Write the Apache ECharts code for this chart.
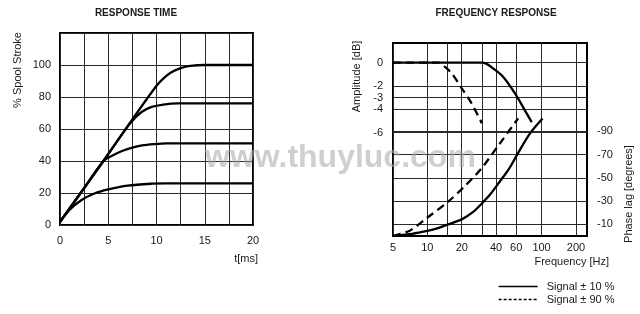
<!DOCTYPE html>
<html><head><meta charset="utf-8">
<script src="https://cdn.jsdelivr.net/npm/echarts@6/dist/echarts.min.js"></script>
<style>html,body{margin:0;padding:0;background:#fff}#c{width:640px;height:314px}</style>
</head><body><div id="c"></div>
<script>
// ---- RESPONSE TIME ----
const timeTicks = [0, 5, 10, 15, 20];
const strokeTicks = [0, 20, 40, 60, 80, 100];
const resp100 = [[0,2],[2.5,23],[4.5,40],[7.5,66],[10,87],[10.7,91.5],[11.5,95.3],[12.5,98],[13.5,99.4],[15,100],[20,100]];
const resp75  = [[0,2],[2.5,23],[4.5,40],[7,61.5],[7.7,66.5],[8.5,70.8],[9.5,73.8],[10.7,75.3],[12.2,76],[20,76]];
const resp50  = [[0,2],[2.5,23],[4.5,40],[5.5,43.6],[6.5,46.4],[7.5,48.4],[8.5,49.7],[9.7,50.5],[11,51],[20,51]];
const resp25  = [[0,2],[1,9.5],[2.2,15.5],[3.5,19.5],[5,22.2],[7,24.6],[9.5,25.8],[11,26],[20,26]];
// ---- FREQUENCY RESPONSE ----
const freqLabels = [5, 10, 20, 40, 60, 100, 200];
const freqGrid = [5, 10, 15, 20, 30, 40, 60, 100, 200];
const ampTicks = [0, -2, -3, -4, -6];
const phaseTicks = [-90, -70, -50, -30, -10];
const amp10 = [[5,0],[30,0],[33,-0.1],[36,-0.35],[46,-1.2],[60,-2.8],[71,-4.05],[82,-5.1]];
const amp90 = [[5,0],[12.5,0],[14,-0.3],[16.3,-0.9],[20,-2.2],[24.4,-3.5],[30,-5.2]];
const phase10 = [[5,0],[7,-1.5],[9.2,-3.7],[12,-6.3],[15,-9.8],[20,-14.3],[25,-20.5],[30,-28],[36,-36.5],[43,-46.7],[52,-58],[62,-71],[79,-88],[102,-101]];
const phase90 = [[5,0],[7,-4.6],[9.8,-15.2],[15.2,-29.5],[21.3,-43],[29.8,-58.2],[43.2,-79.7],[62.4,-101.2]];
const legendNames = ['Signal ± 10 %', 'Signal ± 90 %'];

const FF = '"Liberation Sans", Arial, sans-serif';
const TXT = '#1a1a1a';
const GRIDC = '#2a2a2a';
const lab = (extra) => Object.assign({color: TXT, fontFamily: FF, fontSize: 11}, extra || {});
const split = {show: true, lineStyle: {color: GRIDC, width: 1}};
const noLine = {show: false, onZero: false};

function curve(name, data, xi, yi, dashed) {
  return {
    type: 'line', name, data, xAxisIndex: xi, yAxisIndex: yi,
    symbol: 'none', showSymbol: false, smooth: 0.3,
    lineStyle: {color: '#000', width: 2.3, type: dashed ? [8, 5] : 'solid'},
    itemStyle: {color: '#000'}, z: 5
  };
}
const hiddenSymbol = {opacity: 0, color: 'rgba(0,0,0,0)', borderColor: 'rgba(0,0,0,0)', borderWidth: 0};

const chart = echarts.init(document.getElementById('c'));
chart.setOption({
  animation: false,
  backgroundColor: '#fff',
  title: [
    {text: 'RESPONSE TIME', left: 136, top: 8, padding: 0, textAlign: 'center',
     textStyle: {fontSize: 10, fontWeight: 'bold', color: TXT, fontFamily: FF}},
    {text: 'FREQUENCY RESPONSE', left: 496, top: 8, padding: 0, textAlign: 'center',
     textStyle: {fontSize: 10, fontWeight: 'bold', color: TXT, fontFamily: FF}}
  ],
  legend: {
    left: 498, top: 281, orient: 'vertical', itemWidth: 39, itemHeight: 12, itemGap: 2,
    selectedMode: false, padding: 0,
    data: [
      {name: legendNames[0], itemStyle: hiddenSymbol, lineStyle: {type: 'solid', width: 1.3, color: '#000'}},
      {name: legendNames[1], itemStyle: hiddenSymbol, lineStyle: {type: [3, 2], width: 1.3, color: '#000'}}
    ],
    textStyle: lab({padding: [0, 0, 0, 4]})
  },
  grid: [
    {left: 60, top: 33, width: 193, height: 192, show: true, borderColor: '#000', borderWidth: 2, outerBoundsMode: 'none', containLabel: false},
    {left: 393, top: 43, width: 194, height: 193, show: true, borderColor: '#000', borderWidth: 2, outerBoundsMode: 'none', containLabel: false}
  ],
  xAxis: [
    {type: 'value', gridIndex: 0, min: 0, max: 20, interval: 2.5,
     name: 't[ms]', nameLocation: 'end', nameGap: 5, nameMoveOverlap: false,
     nameTextStyle: lab({align: 'right', verticalAlign: 'top', padding: [28, 0, 0, 0]}),
     axisLine: noLine, axisTick: {show: false},
     axisLabel: lab({margin: 10, formatter: v => (timeTicks.indexOf(v) >= 0 ? String(v) : '')}),
     splitLine: split},
    {type: 'log', logBase: 10, gridIndex: 1, min: 5, max: 250,
     name: 'Frequency [Hz]', nameLocation: 'end', nameGap: 22, nameMoveOverlap: false,
     nameTextStyle: lab({align: 'right', verticalAlign: 'top', padding: [20, 0, 0, 0]}),
     axisLine: noLine,
     axisTick: {show: false, customValues: freqGrid},
     axisLabel: lab({margin: 6, customValues: freqLabels}),
     splitLine: split}
  ],
  yAxis: [
    {type: 'value', gridIndex: 0, min: 0, max: 120, interval: 20,
     name: '% Spool Stroke', nameLocation: 'middle', nameGap: 37, nameMoveOverlap: false,
     nameTextStyle: lab({padding: [0, 0, 0, 118]}),
     axisLine: noLine, axisTick: {show: false},
     axisLabel: lab({margin: 9, formatter: v => (strokeTicks.indexOf(v) >= 0 ? String(v) : '')}),
     splitLine: split},
    {type: 'value', gridIndex: 1, min: -14.88, max: 1.69, position: 'left',
     name: 'Amplitude [dB]', nameLocation: 'middle', nameGap: 31, nameMoveOverlap: false,
     nameTextStyle: lab({padding: [0, 0, 0, 126]}),
     axisLine: noLine,
     axisTick: {show: false, customValues: ampTicks},
     axisLabel: lab({margin: 10, customValues: ampTicks}),
     splitLine: split},
    {type: 'value', gridIndex: 1, min: -166, max: 0, inverse: true, position: 'right',
     name: 'Phase lag [degrees]', nameLocation: 'middle', nameGap: 36, nameMoveOverlap: false,
     nameTextStyle: lab({padding: [0, 109, 0, 0]}),
     axisLine: noLine,
     axisTick: {show: false, customValues: phaseTicks},
     axisLabel: lab({margin: 10, customValues: phaseTicks}),
     splitLine: split}
  ],
  graphic: [
    {type: 'text', left: 205, top: 142, z: 100, silent: true,
     style: {text: 'www.thuyluc.com', font: 'bold 32px "Liberation Sans", Arial, sans-serif', fill: '#a8a8a8', opacity: 0.55}}
  ],
  series: [
    curve('100 %', resp100, 0, 0),
    curve('75 %', resp75, 0, 0),
    curve('50 %', resp50, 0, 0),
    curve('25 %', resp25, 0, 0),
    curve(legendNames[0], amp10, 1, 1, false),
    curve(legendNames[1], amp90, 1, 1, true),
    curve(legendNames[0], phase10, 1, 2, false),
    curve(legendNames[1], phase90, 1, 2, true)
  ]
});
</script>
</body></html>
